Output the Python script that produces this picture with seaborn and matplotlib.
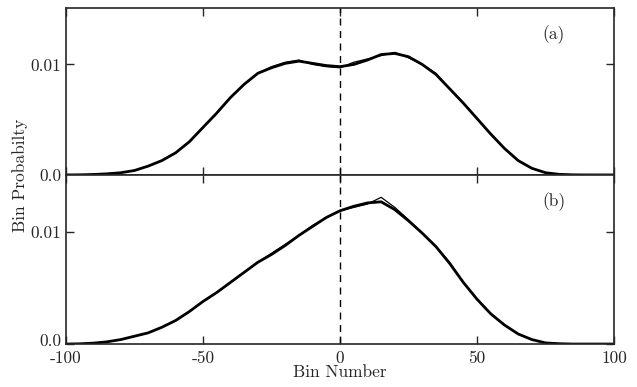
import matplotlib
matplotlib.use("Agg")
import matplotlib.pyplot as plt
import matplotlib.transforms as mtransforms
import seaborn as sns
import numpy as np

# bin centres (step 5)
bins = list(range(-100, 101, 5))

# panel (a): two nearly identical distributions
prob_a1 = [0, 0.00001, 0.00004, 0.0001, 0.0002, 0.0004, 0.0008, 0.0013, 0.0020, 0.0030,
           0.0043, 0.0056, 0.0070, 0.0082, 0.0092, 0.0097, 0.0101, 0.0103, 0.0101, 0.0099,
           0.0098, 0.0100, 0.0104, 0.0109, 0.0110, 0.0107, 0.0100, 0.0091, 0.0078, 0.0065,
           0.0051, 0.0037, 0.0024, 0.0013, 0.0006, 0.0002, 0.00005, 0.00001, 0, 0, 0]
prob_a2 = [0, 0.00001, 0.00004, 0.0001, 0.0002, 0.0004, 0.0008, 0.0013, 0.0020, 0.0030,
           0.0043, 0.0056, 0.0070, 0.0082, 0.0092, 0.0098, 0.0102, 0.0104, 0.0100, 0.0098,
           0.0097, 0.0102, 0.0105, 0.0108, 0.0111, 0.0106, 0.0100, 0.0092, 0.0078, 0.0065,
           0.0051, 0.0037, 0.0024, 0.0013, 0.0006, 0.0002, 0.00005, 0.00001, 0, 0, 0]

# panel (b)
prob_b1 = [0, 0.00002, 0.00008, 0.0002, 0.0004, 0.0007, 0.0010, 0.0015, 0.0021, 0.0029,
           0.0038, 0.0046, 0.0055, 0.0064, 0.0073, 0.0080, 0.0088, 0.0097, 0.0105, 0.0113,
           0.0119, 0.0123, 0.0126, 0.0127, 0.0120, 0.0110, 0.0099, 0.0087, 0.0072, 0.0055,
           0.0040, 0.0027, 0.0017, 0.0009, 0.0004, 0.0001, 0.00003, 0, 0, 0, 0]
prob_b2 = [0, 0.00002, 0.00008, 0.0002, 0.0004, 0.0007, 0.0010, 0.0015, 0.0021, 0.0029,
           0.0038, 0.0046, 0.0055, 0.0064, 0.0073, 0.0081, 0.0089, 0.0097, 0.0106, 0.0113,
           0.0119, 0.0122, 0.0125, 0.0131, 0.0122, 0.0111, 0.0099, 0.0087, 0.0073, 0.0055,
           0.0040, 0.0027, 0.0017, 0.0009, 0.0004, 0.0001, 0.00003, 0, 0, 0, 0]

xticks = [-100, -50, 0, 50, 100]
xticklabels = ["-100", "-50", "0", "50", "100"]
yticks = [0.0, 0.01]
yticklabels = ["0.0", "0.01"]
panel_labels = ["(a)", "(b)"]

sns.set_style("ticks")
plt.rcParams["font.family"] = ["cmr10", "DejaVu Serif"]
plt.rcParams["axes.unicode_minus"] = False
plt.rcParams["axes.linewidth"] = 1.2

fig = plt.figure(figsize=(6.37, 3.87), dpi=100)
ax_a = fig.add_axes([0.1036, 0.548, 0.8604, 0.431])
ax_b = fig.add_axes([0.1036, 0.111, 0.8604, 0.437])

for ax, p1, p2, lab in [(ax_a, prob_a1, prob_a2, panel_labels[0]),
                        (ax_b, prob_b1, prob_b2, panel_labels[1])]:
    sns.lineplot(x=bins, y=p1, ax=ax, color="black", linewidth=2.0)
    sns.lineplot(x=bins, y=p2, ax=ax, color="black", linewidth=0.9)
    ax.axvline(0, color="black", linewidth=1.0, linestyle=(0, (5, 4)))
    ax.set_xlim(-100, 100)
    ax.set_ylim(0, 0.0151)
    ax.set_xticks(xticks)
    ax.set_yticks(yticks)
    ax.set_yticklabels(yticklabels, fontsize=12.5)
    ax.tick_params(direction="in", length=6, width=1, top=True, right=True)
    ax.text(0.89, 0.84, lab, transform=ax.transAxes, fontsize=12.5,
            ha="center", va="center")
    for s in ax.spines.values():
        s.set_visible(True)

ax_a.set_xticklabels([])
ax_b.set_xticklabels(xticklabels, fontsize=12.5)
ax_b.tick_params(axis="x", pad=5)
ax_b.set_xlabel("Bin Number", fontsize=12.5, labelpad=-1)

# the bottom "0.0" sits a little above the axis line in the original
lbl = ax_b.get_yticklabels()[0]
lbl.set_transform(lbl.get_transform() + mtransforms.ScaledTranslation(0, 4 / 100, fig.dpi_scale_trans))

fig.text(0.032, 1 - 175 / 387, "Bin Probabilty", rotation=90, fontsize=12.5,
         ha="center", va="center")

fig.savefig("out.png", dpi=100)
